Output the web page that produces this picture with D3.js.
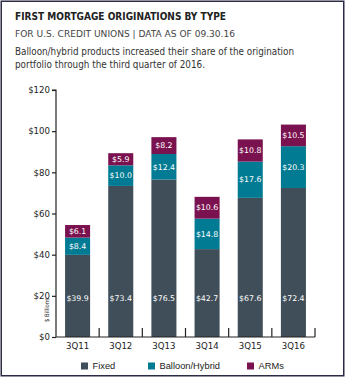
<!DOCTYPE html>
<html><head><meta charset="utf-8">
<script src="https://cdn.jsdelivr.net/npm/d3@7"></script>
<style>
html,body{margin:0;padding:0;background:#fff;}
svg{display:block;}
</style></head>
<body>
<script>
const categories = ["3Q11","3Q12","3Q13","3Q14","3Q15","3Q16"];
const fixedVals = [39.9,73.4,76.5,42.7,67.6,72.4];
const balloonVals = [8.4,10.0,12.4,14.8,17.6,20.3];
const armVals = [6.1,5.9,8.2,10.6,10.8,10.5];
const seriesNames = ["Fixed","Balloon/Hybrid","ARMs"];
const seriesColors = ["#3f4e59","#017b93","#7b1250"];
const yTicks = [0,20,40,60,80,100,120];

const W=346,H=378;
const svg=d3.select("body").append("svg").attr("width",W).attr("height",H);

svg.append("rect").attr("x",1.25).attr("y",1.25).attr("width",342.5).attr("height",374.5)
  .attr("fill","#fff").attr("stroke","#2b2b45").attr("stroke-width",1.5);

const cond='"Liberation Sans Narrow","DejaVu Sans Condensed",sans-serif';
svg.append("text").attr("x",15).attr("y",20).text("FIRST MORTGAGE ORIGINATIONS BY TYPE")
  .attr("font-family",cond).attr("font-weight","bold").attr("font-size",11).attr("fill","#222")
  .attr("textLength",211).attr("lengthAdjust","spacingAndGlyphs");
svg.append("text").attr("x",15).attr("y",37).text("FOR U.S. CREDIT UNIONS  |  DATA AS OF 09.30.16")
  .attr("font-family",cond).attr("font-size",9.5).attr("fill","#444")
  .attr("textLength",220).attr("lengthAdjust","spacingAndGlyphs");
svg.append("text").attr("x",15).attr("y",55).text("Balloon/hybrid products increased their share of the origination")
  .attr("font-family",cond).attr("font-size",10.5).attr("fill","#333")
  .attr("textLength",279).attr("lengthAdjust","spacingAndGlyphs");
svg.append("text").attr("x",15).attr("y",68).text("portfolio through the third quarter of 2016.")
  .attr("font-family",cond).attr("font-size",10.5).attr("fill","#333")
  .attr("textLength",190).attr("lengthAdjust","spacingAndGlyphs");

const x0=56,x1=315,y0=337,y1=90;
const x=d3.scaleBand().domain(categories).range([x0,x1]).paddingInner(0.42).paddingOuter(0.21);
const y=d3.scaleLinear().domain([0,120]).range([y0,y1]);

const data=categories.map((c,i)=>({cat:c,Fixed:fixedVals[i],"Balloon/Hybrid":balloonVals[i],ARMs:armVals[i]}));
const stack=d3.stack().keys(seriesNames)(data);
const color=d3.scaleOrdinal().domain(seriesNames).range(seriesColors);

const g=svg.append("g");
stack.forEach(layer=>{
  g.selectAll(null).data(layer).enter().append("rect")
    .attr("x",d=>x(d.data.cat)).attr("width",x.bandwidth())
    .attr("y",d=>y(d[1])).attr("height",d=>y(d[0])-y(d[1]))
    .attr("fill",color(layer.key));
  g.selectAll(null).data(layer).enter().append("text")
    .attr("x",d=>x(d.data.cat)+x.bandwidth()/2)
    .attr("y",d=>layer.key==="Fixed"? y(20)+2 : (y(d[0])+y(d[1]))/2)
    .attr("dy","0.35em").attr("text-anchor","middle")
    .attr("font-family","DejaVu Sans, sans-serif").attr("font-size",7.8).attr("fill","#fff")
    .text(d=>"$"+(d[1]-d[0]).toFixed(1));
});

// y axis
const yAxis=d3.axisLeft(y).tickValues(yTicks).tickSize(4).tickFormat(d=>"$"+d);
const ya=svg.append("g").attr("transform",`translate(${x0},0)`).call(yAxis);
ya.select(".domain").attr("d",`M-4,${y1}H0V${y0}`).attr("stroke","#222").attr("stroke-width",1.2);
ya.selectAll(".tick line").attr("stroke","#222").attr("stroke-width",1.2);
ya.selectAll(".tick text").attr("font-family","DejaVu Sans, sans-serif").attr("font-size",8.6).attr("fill","#222").attr("x",-6);

// x axis
const xa=svg.append("g").attr("transform",`translate(0,${y0})`).call(d3.axisBottom(x).tickSize(0));
xa.select(".domain").remove();
xa.append("line").attr("x1",x0).attr("x2",x1).attr("y1",0).attr("y2",0).attr("stroke","#222").attr("stroke-width",1.2);
const bounds=categories.slice(1).map(c=>x(c)-x.step()*x.paddingInner()/2).concat([x1]);
xa.selectAll(null).data(bounds).enter().append("line")
  .attr("x1",d=>d).attr("x2",d=>d).attr("y1",0).attr("y2",-9).attr("stroke","#222").attr("stroke-width",1.2);
xa.selectAll(".tick text").attr("font-family","DejaVu Sans, sans-serif").attr("font-size",8.6).attr("fill","#222").attr("y",6).attr("dy","0.71em");

svg.append("text").attr("transform","translate(49,310) rotate(-90)").attr("text-anchor","middle")
  .attr("font-family","DejaVu Sans, sans-serif").attr("font-size",6).attr("fill","#222")
  .attr("textLength",24).attr("lengthAdjust","spacingAndGlyphs").text("$ Billions");

// legend
const legX=[81,148,247];
const lg=svg.append("g");
seriesNames.forEach((s,i)=>{
  lg.append("rect").attr("x",legX[i]).attr("y",362.5).attr("width",7).attr("height",7).attr("fill",seriesColors[i]);
  lg.append("text").attr("x",legX[i]+11.5).attr("y",369).text(s)
    .attr("font-family","Liberation Sans, Arial, sans-serif").attr("font-size",9.3).attr("fill","#222");
});
</script>
</body></html>
